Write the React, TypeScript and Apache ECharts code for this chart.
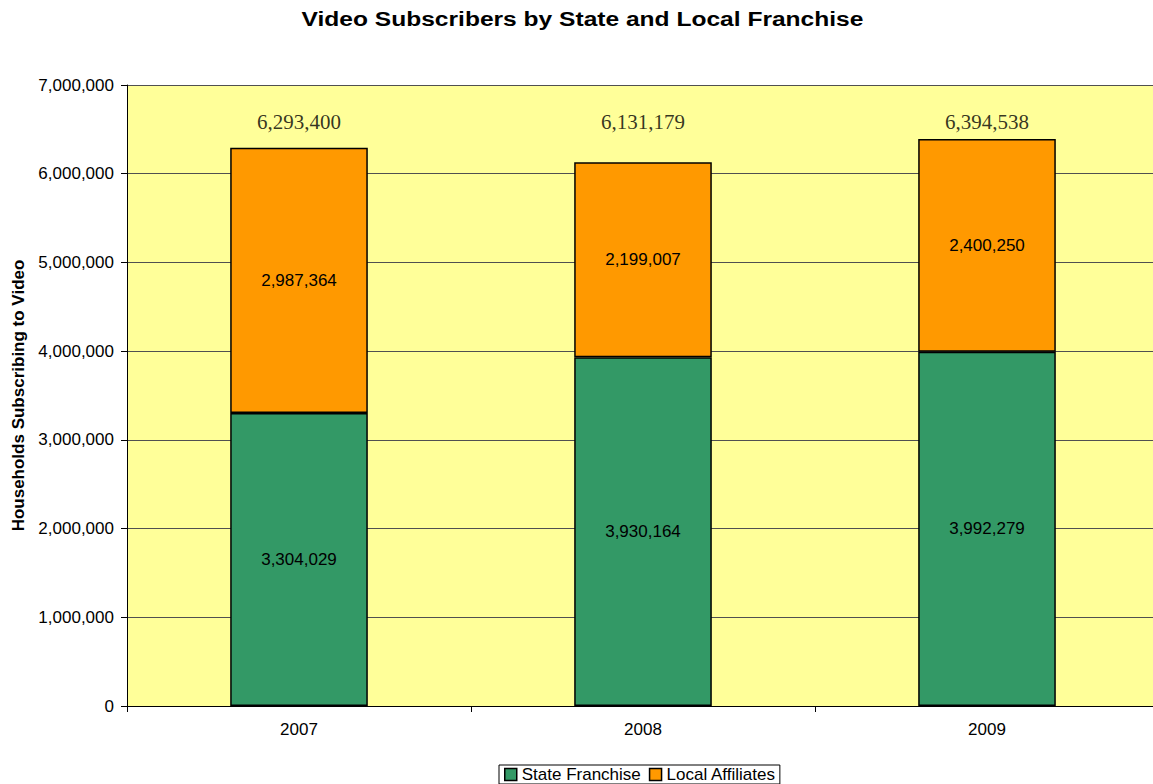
import React, { useEffect, useRef } from "react";
import * as echarts from "echarts";

const years = ["2007", "2008", "2009"];
const stateFranchise = [3304029, 3930164, 3992279];
const localAffiliates = [2987364, 2199007, 2400250];
const totals = [6293400, 6131179, 6394538];
const totalLabelLevel = 6580000;
const titleText = "Video Subscribers by State and Local Franchise";

const fmt = (v: number) => v.toLocaleString("en-US");
const SANS = "Arial, 'Liberation Sans', sans-serif";

export default function App() {
  const ref = useRef<HTMLDivElement>(null);
  useEffect(() => {
    if (!ref.current) return;
    const chart = echarts.init(ref.current, null, { renderer: "svg" });
    chart.setOption({
      animation: false,
      backgroundColor: "#ffffff",
      graphic: [
        {
          type: "text",
          x: 582.5,
          y: 19,
          scaleX: 1.17,
          style: {
            text: titleText,
            fontFamily: SANS,
            fontSize: 21,
            fontWeight: "bold",
            fill: "#000",
            textAlign: "center",
            textVerticalAlign: "middle",
          },
        },
      ],
      legend: {
        top: 765,
        left: 499,
        itemWidth: 12,
        itemHeight: 12,
        itemGap: 8,
        padding: [1, 4, 1, 5],
        borderColor: "#000",
        borderWidth: 1,
        borderRadius: 0,
        textStyle: { fontFamily: SANS, fontSize: 17, color: "#000" },
        data: [
          { name: "State Franchise", icon: "rect", itemStyle: { borderColor: "#000", borderWidth: 1.5 } },
          { name: "Local Affiliates", icon: "rect", itemStyle: { borderColor: "#000", borderWidth: 1.5 } },
        ],
      },
      grid: {
        left: 127,
        top: 85,
        width: 1032,
        height: 621,
        show: true,
        backgroundColor: "#FFFF99",
        borderWidth: 0,
      },
      xAxis: {
        type: "category",
        data: years,
        axisLine: { lineStyle: { color: "#000", width: 1 } },
        axisTick: { show: true, length: 6, lineStyle: { color: "#000" } },
        axisLabel: { fontFamily: SANS, fontSize: 17, color: "#000", margin: 15 },
      },
      yAxis: {
        type: "value",
        min: 0,
        max: 7000000,
        interval: 1000000,
        name: "Households Subscribing to Video",
        nameLocation: "middle",
        nameGap: 100,
        nameTextStyle: { fontFamily: SANS, fontSize: 17, fontWeight: "bold", color: "#000" },
        axisLine: { show: true, lineStyle: { color: "#000", width: 1 } },
        axisTick: { show: true, length: 6, lineStyle: { color: "#000" } },
        axisLabel: {
          fontFamily: SANS,
          fontSize: 17,
          color: "#000",
          margin: 13,
          formatter: (v: number) => fmt(v),
        },
        splitLine: { show: true, lineStyle: { color: "#505050", width: 1 } },
      },
      series: [
        {
          name: "State Franchise",
          type: "bar",
          stack: "total",
          barWidth: "40%",
          data: stateFranchise,
          itemStyle: { color: "#339966", borderColor: "#000", borderWidth: 1.5 },
          label: {
            show: true,
            position: "inside",
            fontFamily: SANS,
            fontSize: 17,
            color: "#000",
            formatter: (p: any) => fmt(p.value),
          },
        },
        {
          name: "Local Affiliates",
          type: "bar",
          stack: "total",
          barWidth: "40%",
          data: localAffiliates,
          itemStyle: { color: "#FF9900", borderColor: "#000", borderWidth: 1.5 },
          label: {
            show: true,
            position: "inside",
            fontFamily: SANS,
            fontSize: 17,
            color: "#000",
            formatter: (p: any) => fmt(p.value),
          },
        },
        {
          name: "Total",
          type: "scatter",
          symbolSize: 0,
          silent: true,
          data: years.map((y, i) => [y, totalLabelLevel, totals[i]]),
          label: {
            show: true,
            position: "inside",
            fontFamily: "'Times New Roman', 'Liberation Serif', serif",
            fontSize: 21,
            color: "#000",
            formatter: (p: any) => fmt(p.value[2]),
          },
        },
      ],
    });
    return () => chart.dispose();
  }, []);
  return (
    <div style={{ position: "absolute", left: 0, top: 0, width: 1153, height: 784, overflow: "hidden" }}>
      <div ref={ref} style={{ width: 1160, height: 784 }} />
    </div>
  );
}
